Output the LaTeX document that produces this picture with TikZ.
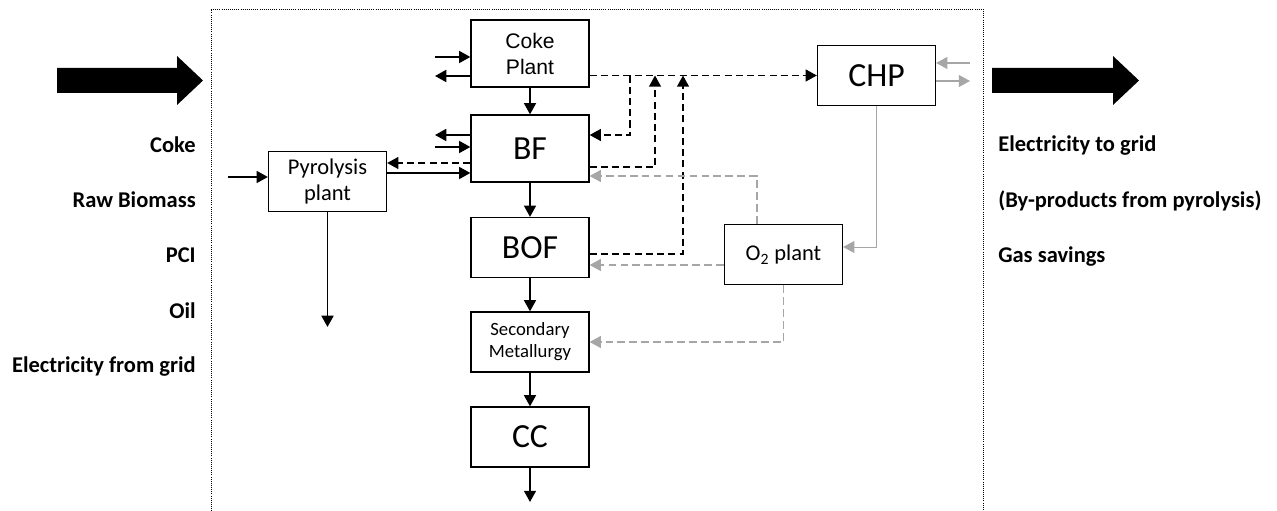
\documentclass[tikz,border=0pt]{standalone}
\usepackage{fontspec}
\setmainfont{Carlito}
\newfontfamily\arialfont{Liberation Sans}
\usetikzlibrary{arrows.meta}
\definecolor{utilgray}{RGB}{166,166,166}

\begin{document}
\begin{tikzpicture}[x=0.025cm, y=-0.025cm, >={Triangle[length=8pt,width=8.5pt]},
  unit/.style={draw, line width=0.9pt, minimum width=2.95cm, minimum height=1.5cm, inner sep=0pt, align=center},
  flow/.style={line width=1.3pt, ->},
  gas/.style={flow, line width=1.1pt, dash pattern=on 5pt off 3pt},
  util/.style={utilgray, line width=1pt, ->},
  utilgas/.style={util, dash pattern=on 5.5pt off 3pt},
  sidelabel/.style={font=\fontsize{16}{19}\selectfont\bfseries, inner sep=0pt}]

  \useasboundingbox (0,0) rectangle (1277,511);
  % system boundary
  \draw[densely dotted, line width=0.5pt] (211,511) -- (211,9) -- (983,9) -- (983,511);

  % process units
  \node[unit, minimum height=1.675cm, font=\arialfont\fontsize{15}{18.5}\selectfont] (coke) at (530,53.5) {Coke\\Plant};
  \node[unit, minimum height=1.675cm, font=\fontsize{24}{28}\selectfont] (bf) at (530,148.5) {BF};
  \node[unit, font=\fontsize{24}{28}\selectfont] (bof) at (530,247.5) {BOF};
  \node[unit, font=\fontsize{13.3}{15.6}\selectfont] (sec) at (530,342) {Secondary\\Metallurgy};
  \node[unit, font=\fontsize{24}{28}\selectfont] (cc) at (530,437) {CC};
  \node[unit, font=\fontsize{16}{18.5}\selectfont] (pyro) at (327.5,181.5) {Pyrolysis\\plant};
  \node[unit, font=\fontsize{24}{28}\selectfont] (chp) at (876.5,75.5) {CHP};
  \node[unit, font=\fontsize{16}{18.5}\selectfont] (oxy) at (783.5,254.5) {O\textsubscript{2} plant};

  % steel route
  \coordinate (ccout) at (530,502);
  \draw[flow] (coke) -- (bf);
  \draw[flow] (bf) -- (bof);
  \draw[flow] (bof) -- (sec);
  \draw[flow] (sec) -- (cc);
  \draw[flow] (cc) -- (ccout);

  % inputs and outputs on the left
  \coordinate (cokein) at (435,57);
  \coordinate (cokeout) at (435,76);
  \coordinate (bfout) at (435,135);
  \coordinate (bfin) at (435,147);
  \coordinate (pyroin) at (228,177);
  \coordinate (pyroout) at (327.5,327);
  \draw[flow] (cokein) -- (cokein -| coke.west);
  \draw[flow] (cokeout -| coke.west) -- (cokeout);
  \draw[flow] (bfout -| bf.west) -- (bfout);
  \draw[flow] (bfin) -- (bfin -| bf.west);
  \draw[flow] (pyroin) -- (pyroin -| pyro.west);
  \draw[flow] (pyro) -- (pyroout);
  \draw[flow] (pyro.east |- 0,173) -- (bf.west |- 0,173);
  \draw[gas] (bf.west |- 0,163) -- (pyro.east |- 0,163);

  % process gases
  \coordinate (ja) at (630,75.5);
  \coordinate (jb) at (655,75.5);
  \coordinate (jc) at (683,75.5);
  \draw[gas] (coke.east |- chp.west) -- (chp.west);
  \draw[gas] (ja) |- (bf.east |- 0,135);
  \draw[gas] (bf.east |- 0,167) -| (jb);
  \draw[gas] (bof.east |- 0,254) -| (jc);

  % utilities
  \coordinate (gridin) at (970,63);
  \coordinate (gridout) at (970,81);
  \draw[util, line width=0.7pt] (chp.south) |- (oxy.east |- 0,247);
  \draw[utilgas] (oxy.north -| 757,0) |- (bf.east |- 0,176);
  \draw[utilgas] (oxy.west |- 0,265) -- (bof.east |- 0,265);
  \draw[utilgas] (oxy.south) |- (sec.east);
  \draw[util] (gridin) -- (gridin -| chp.east);
  \draw[util] (chp.east |- gridout) -- (gridout);

  % system inputs
  \fill (57,68) -- (177,68) -- (177,56) -- (203,80.5) -- (177,105) -- (177,93) -- (57,93) -- cycle;
  \node[sidelabel, anchor=base east] (incoke) at (196,153) {Coke};
  \node[sidelabel, anchor=base east] (inbio) at (196,208) {Raw Biomass};
  \node[sidelabel, anchor=base east] (inpci) at (196,263) {PCI};
  \node[sidelabel, anchor=base east] (inoil) at (196,319) {Oil};
  \node[sidelabel, anchor=base east] (inelec) at (196,373) {Electricity from grid};

  % system outputs
  \fill (992,68) -- (1113,68) -- (1113,56) -- (1139,80.5) -- (1113,105) -- (1113,93) -- (992,93) -- cycle;
  \node[sidelabel, anchor=base west] (outelec) at (998,152) {Electricity to grid};
  \node[sidelabel, anchor=base west] (outbyprod) at (998,208) {(By-products from pyrolysis)};
  \node[sidelabel, anchor=base west] (outgas) at (998,263) {Gas savings};
\end{tikzpicture}
\end{document}
